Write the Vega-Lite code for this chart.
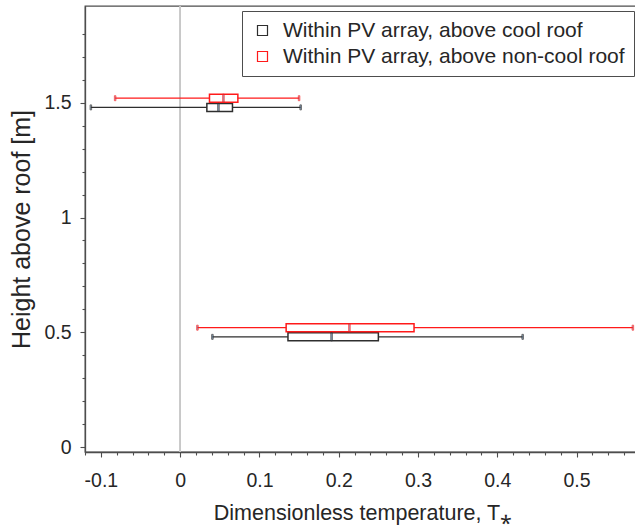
{
  "$schema": "https://vega.github.io/schema/vega-lite/v6.json",
  "autosize": "none",
  "width": 555,
  "height": 446,
  "padding": {"left": 85, "top": 6, "right": 0, "bottom": 74},
  "background": "white",
  "config": {
    "font": "Liberation Sans",
    "view": {"stroke": "#4d4d4d", "strokeWidth": 1.3},
    "axis": {
      "domainColor": "#4d4d4d",
      "domainWidth": 1.3,
      "tickColor": "#4d4d4d",
      "tickWidth": 1.1,
      "labelColor": "#262626",
      "labelFont": "Liberation Sans",
      "labelFontSize": 19.5,
      "titleColor": "#262626",
      "titleFont": "Liberation Sans",
      "titleFontWeight": "normal",
      "grid": false
    },
    "legend": {
      "labelFont": "Liberation Sans",
      "labelFontSize": 21,
      "labelColor": "#262626"
    }
  },
  "resolve": {"axis": {"x": "independent", "y": "independent"}},
  "data": {
    "values": [
      {"g": "Within PV array, above cool roof", "pos": 1.48, "min": -0.1126, "q1": 0.0337, "med": 0.0483, "q3": 0.066, "max": 0.152},
      {"g": "Within PV array, above non-cool roof", "pos": 1.52, "min": -0.082, "q1": 0.037, "med": 0.0546, "q3": 0.0728, "max": 0.15},
      {"g": "Within PV array, above cool roof", "pos": 0.48, "min": 0.0407, "q1": 0.136, "med": 0.191, "q3": 0.25, "max": 0.432},
      {"g": "Within PV array, above non-cool roof", "pos": 0.52, "min": 0.0218, "q1": 0.1337, "med": 0.2135, "q3": 0.295, "max": 0.571}
    ]
  },
  "layer": [
    {
      "mark": {"type": "rule", "color": "#c8c8c8", "strokeWidth": 1.2},
      "encoding": {"x": {"datum": 0, "type": "quantitative", "axis": null}}
    },
    {
      "mark": {"type": "rule", "strokeWidth": 1.2},
      "encoding": {
        "x": {
          "field": "min",
          "type": "quantitative",
          "scale": {"domain": [-0.12, 0.58], "nice": false, "zero": false},
          "axis": {
            "orient": "bottom",
            "title": "Dimensionless temperature, T⁎",
            "titleFontSize": 21.5,
            "values": [-0.1, 0, 0.1, 0.2, 0.3, 0.4, 0.5],
            "labelExpr": "toString(round(datum.value*10)/10)",
            "tickSize": 5,
            "labelOverlap": false,
            "labelFlush": false,
            "labelPadding": 14,
            "titlePadding": 13
          }
        },
        "x2": {"field": "max"},
        "y": {
          "field": "pos",
          "type": "quantitative",
          "scale": {"domain": [0, 1.9], "nice": false, "zero": false},
          "axis": {
            "orient": "left",
            "title": "Height above roof [m]",
            "titleFontSize": 25,
            "values": [0, 0.5, 1, 1.5],
            "labelExpr": "toString(datum.value)",
            "tickSize": 5,
            "labelOverlap": false,
            "labelFlush": false,
            "labelPadding": 9,
            "titlePadding": 9
          }
        },
        "stroke": {
          "field": "g",
          "type": "nominal",
          "scale": {"domain": ["Within PV array, above cool roof", "Within PV array, above non-cool roof"], "range": ["#2e2e2e", "#ff1a1a"]},
          "legend": {
            "title": null,
            "orient": "none",
            "legendX": 157,
            "legendY": 5,
            "strokeColor": "#4d4d4d",
            "fillColor": "white",
            "padding": 9,
            "symbolType": "square",
            "symbolSize": 100,
            "symbolFillColor": "white",
            "symbolStrokeWidth": 1.2,
            "symbolOffset": 1,
            "labelOffset": 10,
            "labelLimit": 500,
            "rowPadding": 4
          }
        }
      }
    },
    {
      "mark": {"type": "bar", "height": 8, "fill": "white", "strokeWidth": 1.5},
      "encoding": {
        "x": {
          "field": "q1",
          "type": "quantitative",
          "axis": {
            "orient": "bottom",
            "title": null,
            "labels": false,
            "domain": false,
            "tickSize": 3,
            "values": [-0.12, -0.08, -0.06, -0.04, -0.02, 0.02, 0.04, 0.06, 0.08, 0.12, 0.14, 0.16, 0.18, 0.22, 0.24, 0.26, 0.28, 0.32, 0.34, 0.36, 0.38, 0.42, 0.44, 0.46, 0.48, 0.52, 0.54, 0.56]
          }
        },
        "x2": {"field": "q3"},
        "y": {
          "field": "pos",
          "type": "quantitative",
          "axis": {
            "orient": "left",
            "title": null,
            "labels": false,
            "domain": false,
            "tickSize": 3,
            "values": [0.1, 0.2, 0.3, 0.4, 0.6, 0.7, 0.8, 0.9, 1.1, 1.2, 1.3, 1.4, 1.6, 1.7, 1.8]
          }
        },
        "stroke": {"field": "g", "type": "nominal"}
      }
    },
    {
      "mark": {"type": "tick", "orient": "vertical", "size": 8, "thickness": 1.5},
      "encoding": {
        "x": {"field": "med", "type": "quantitative", "axis": null},
        "y": {"field": "pos", "type": "quantitative", "axis": null},
        "stroke": {"field": "g", "type": "nominal"}
      }
    },
    {
      "mark": {"type": "tick", "orient": "vertical", "size": 5, "thickness": 1.5},
      "encoding": {
        "x": {"field": "min", "type": "quantitative", "axis": null},
        "y": {"field": "pos", "type": "quantitative", "axis": null},
        "stroke": {"field": "g", "type": "nominal"}
      }
    },
    {
      "mark": {"type": "tick", "orient": "vertical", "size": 5, "thickness": 1.5},
      "encoding": {
        "x": {"field": "max", "type": "quantitative", "axis": null},
        "y": {"field": "pos", "type": "quantitative", "axis": null},
        "stroke": {"field": "g", "type": "nominal"}
      }
    }
  ]
}
